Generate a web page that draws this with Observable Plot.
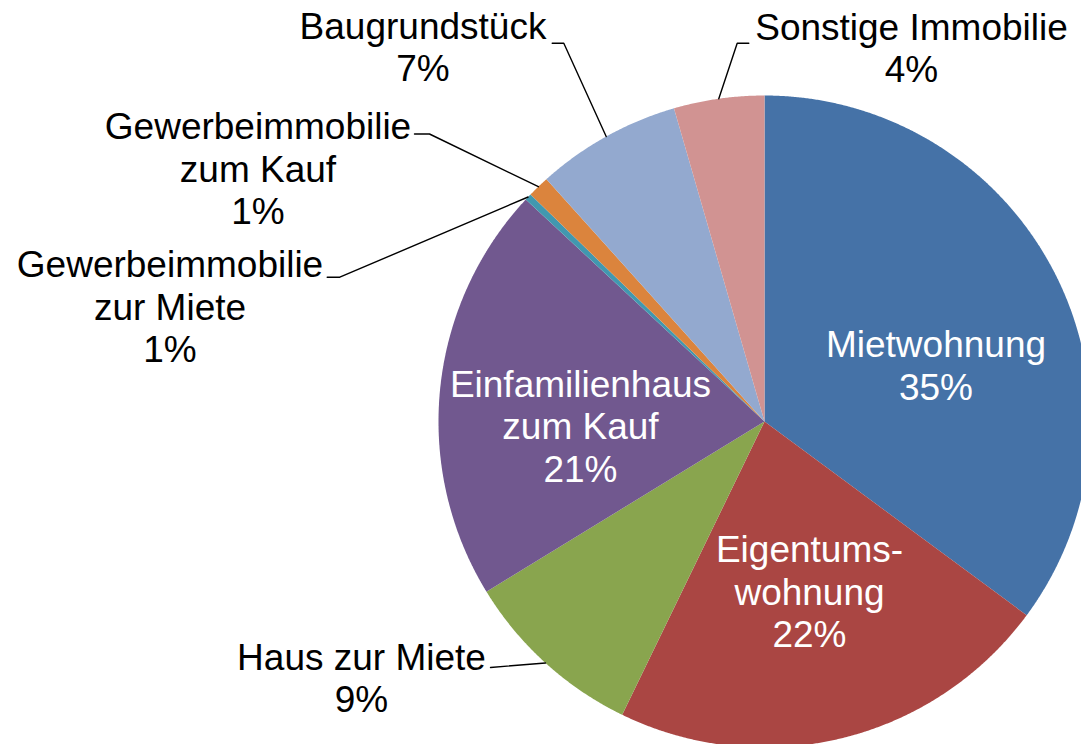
<!DOCTYPE html>
<html>
<head>
<meta charset="utf-8">
<script src="https://cdn.jsdelivr.net/npm/d3@7"></script>
<script src="https://cdn.jsdelivr.net/npm/@observablehq/plot@0.6"></script>
<style>
  html, body { margin: 0; padding: 0; overflow: hidden; background: #ffffff; }
  #chart svg { display: block; }
</style>
</head>
<body>
<div id="chart"></div>
<script>
// ---------- data ----------
const categories = [
  "Mietwohnung",
  "Eigentumswohnung",
  "Haus zur Miete",
  "Einfamilienhaus zum Kauf",
  "Gewerbeimmobilie zur Miete",
  "Gewerbeimmobilie zum Kauf",
  "Baugrundstück",
  "Sonstige Immobilie"
];
const shares = [35.13, 22.06, 9.07, 20.66, 0.34, 1.08, 7.18, 4.48];
const labelNames = [
  "Mietwohnung",
  "Eigentums-\nwohnung",
  "Haus zur Miete",
  "Einfamilienhaus\nzum Kauf",
  "Gewerbeimmobilie\nzur Miete",
  "Gewerbeimmobilie\nzum Kauf",
  "Baugrundstück",
  "Sonstige Immobilie"
];
const percentLabels = ["35%", "22%", "9%", "21%", "1%", "1%", "7%", "4%"];
const sliceColors = ["#4572A7", "#AA4643", "#89A54E", "#71588F", "#4198AF", "#DB843D", "#93A9CF", "#D19392"];

// ---------- layout (pixels relative to pie centre, y down) ----------
const W = 1081, H = 744, CX = 764, CY = 421, R = 326;
const labelInside = [true, true, false, true, false, false, false, false];
const labelPos = [
  [171.5, -56.5], [45, 169.5], [-403, 256], [-184, 4],
  [-594.5, -115.5], [-506.5, -253.5], [-341.5, -375], [147, -374]
];
const leaderPath = [
  null, null,
  [[-274, 246]],
  null,
  [[-437.3, -144.3], [-424.7, -144.3]],
  [[-350, -287.5], [-335, -287.5]],
  [[-212.3, -378.3], [-200.7, -378.3]],
  [[-15.7, -378.3], [-27.3, -378.3]]
];

// ---------- geometry from data ----------
const total = d3.sum(shares);
const polar = (a, r) => [r * Math.sin(a), -r * Math.cos(a)];
let cum = 0;
const slices = categories.map((c, i) => {
  const a0 = cum / total * 2 * Math.PI;
  cum += shares[i];
  const a1 = cum / total * 2 * Math.PI;
  return {c, i, a0, a1, mid: (a0 + a1) / 2};
});

const wedgePts = [];
slices.forEach(s => {
  wedgePts.push({c: s.c, x: 0, y: 0});
  const n = Math.max(2, Math.ceil((s.a1 - s.a0) / 0.004));
  for (let k = 0; k <= n; k++) {
    const a = s.a0 + (s.a1 - s.a0) * k / n;
    const [x, y] = polar(a, R);
    wedgePts.push({c: s.c, x, y});
  }
});

const leaderPts = [];
slices.forEach(s => {
  const p = leaderPath[s.i];
  if (!p) return;
  p.forEach(([x, y]) => leaderPts.push({c: s.c, x, y}));
  const [ex, ey] = polar(s.mid, R);
  leaderPts.push({c: s.c, x: ex, y: ey});
});

const labels = slices.map(s => ({
  c: s.c,
  x: labelPos[s.i][0],
  y: labelPos[s.i][1],
  text: labelNames[s.i] + "\n" + percentLabels[s.i],
  inside: labelInside[s.i]
}));

const font = "'Liberation Sans', Arial, Helvetica, sans-serif";

const chart = Plot.plot({
  width: W,
  height: H,
  margin: 0,
  style: {fontFamily: font, background: "#ffffff"},
  x: {type: "linear", domain: [-CX, W - CX], range: [0, W], axis: null},
  y: {type: "linear", domain: [-CY, H - CY], range: [0, H], axis: null},
  color: {domain: categories, range: sliceColors},
  marks: [
    Plot.line(wedgePts, {x: "x", y: "y", z: "c", fill: "c", stroke: "none", curve: "linear-closed", clip: true}),
    Plot.line(leaderPts, {x: "x", y: "y", z: "c", stroke: "#000000", strokeWidth: 1.4, curve: "linear"}),
    Plot.text(labels.filter(d => d.inside), {x: "x", y: "y", text: "text", fill: "#ffffff", fontSize: 37, lineHeight: 1.15, fontFamily: font, textAnchor: "middle"}),
    Plot.text(labels.filter(d => !d.inside), {x: "x", y: "y", text: "text", fill: "#000000", fontSize: 37, lineHeight: 1.15, fontFamily: font, textAnchor: "middle"})
  ]
});
document.getElementById("chart").appendChild(chart);
</script>
</body>
</html>
